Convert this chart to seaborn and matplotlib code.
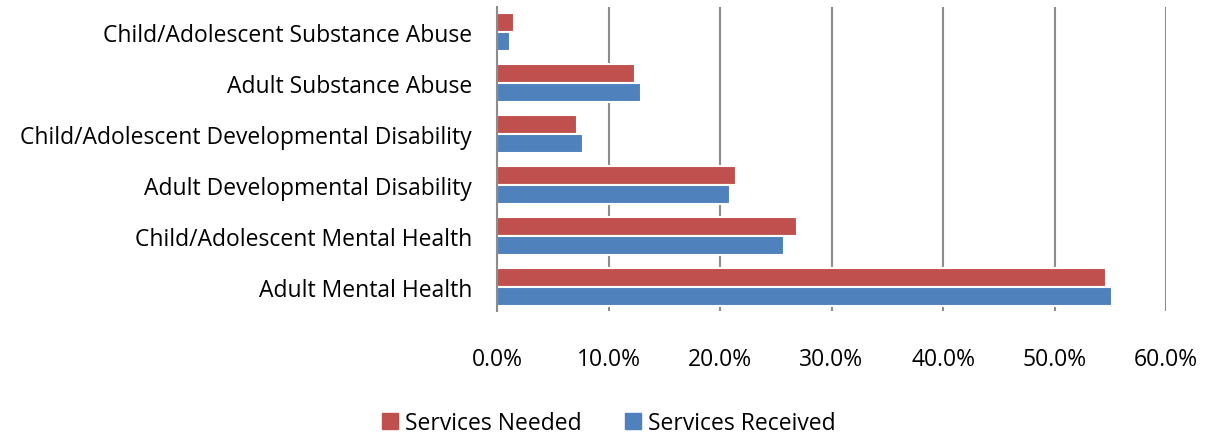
import pandas as pd
import matplotlib.pyplot as plt
import seaborn as sns
from matplotlib.ticker import PercentFormatter
from matplotlib.patches import Patch

categories = ['Child/Adolescent Substance Abuse', 'Adult Substance Abuse',
              'Child/Adolescent Developmental Disability', 'Adult Developmental Disability',
              'Child/Adolescent Mental Health', 'Adult Mental Health']
needed = [1.5, 12.4, 7.2, 21.4, 26.9, 54.6]
received = [1.2, 12.9, 7.7, 20.9, 25.7, 55.2]
series = ['Services Needed', 'Services Received']
colors = ['#C0504D', '#4F81BD']

df = pd.DataFrame({'category': categories * 2,
                   'value': needed + received,
                   'series': [series[0]] * 6 + [series[1]] * 6})

sns.set_style('white')
plt.rcParams['font.family'] = ['Open Sans', 'DejaVu Sans']
plt.rcParams['text.color'] = 'black'
plt.rcParams['xtick.color'] = 'black'
plt.rcParams['ytick.color'] = 'black'

fig = plt.figure(figsize=(12.09, 4.39), dpi=100)
ax = fig.add_axes([497 / 1209, 1 - 312 / 439, (1166 - 497) / 1209, 304 / 439])

sns.barplot(data=df, y='category', x='value', hue='series', order=categories,
            hue_order=series, palette=colors, width=0.75, orient='h', ax=ax,
            legend=False, saturation=1, edgecolor='white', linewidth=1.5)

ax.set_xlim(0, 60)
ax.set_xticks(range(0, 61, 10))
ax.xaxis.set_major_formatter(PercentFormatter(decimals=1))
ax.grid(axis='x', color='#8c8c8c', linewidth=1.5)
ax.set_axisbelow(True)
for s in ['top', 'right', 'bottom']:
    ax.spines[s].set_visible(False)
ax.spines['left'].set_color('#8c8c8c')
ax.spines['left'].set_linewidth(1.5)
ax.set_xlabel('')
ax.set_ylabel('')
ax.tick_params(axis='x', length=0, pad=26, labelsize=16.5)
ax.tick_params(axis='y', length=0, pad=18, labelsize=16.5)
ax.set_ylim(5.47, -0.49)

handles = [Patch(color=c, label=l) for c, l in zip(colors, series)]
fig.legend(handles=handles, loc='center', bbox_to_anchor=(609 / 1209, 0.034), ncol=2,
           frameon=False, fontsize=16.5, handlelength=0.7, handleheight=0.7,
           handletextpad=0.3, columnspacing=1.9)

fig.savefig('out.png', dpi=100)
